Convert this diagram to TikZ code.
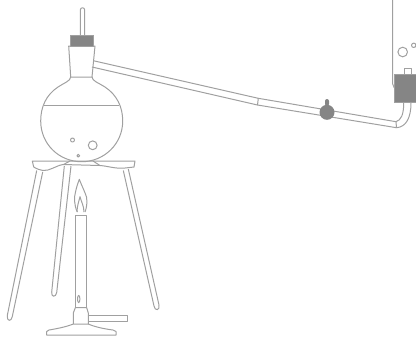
\documentclass[tikz,border=0pt]{standalone}
\usepackage{xcolor}
\usepackage{tikz}
\definecolor{GlassLine}{HTML}{A0A0A0}
\definecolor{StopperGrey}{HTML}{858585}
\tikzset{glass/.style={draw=GlassLine,line width=0.75pt,line join=round},
  stopper/.style={draw=GlassLine,fill=StopperGrey,line width=0.5pt}}
\begin{document}
\begin{tikzpicture}[x=0.75pt,y=-0.75pt]
\path[use as bounding box] (0,0) rectangle (416,337);
% flask
\draw[glass] (80.3,35) -- (80.3,10) .. controls (80.3,7) and (84.7,7) .. (84.7,10) -- (84.7,35);
\draw[glass] (68.7,46) -- (70.7,77) -- (92,77) -- (95,46) -- cycle;
\draw[glass] (70.7,77) .. controls (70.5,81) and (64,83) .. (58,87) .. controls (46,95) and (40.7,107) .. (40.7,121)
  .. controls (40.7,144) and (59,161.7) .. (81.7,161.7) .. controls (104,161.7) and (122.7,144) .. (122.7,121)
  .. controls (122.7,107) and (117,95) .. (105,87) .. controls (99,83) and (92,81) .. (92,77);
\draw[glass] (44,105.3) -- (118.7,105.3);
\draw[glass] (72.5,140) circle (2);
\draw[glass] (92.7,145.3) circle (4.4);
\draw[glass] (78.3,155.7) circle (1.4);
\draw[stopper] (70,35) rectangle (93,46);
% delivery tube
\draw[glass] (93.3,60.7) -- (258.3,98.3) -- (257.5,105) -- (92,67);
\draw[glass] (258.3,98.3) -- (396,121.7) -- (396.5,127.7) -- (257.5,105);
\draw[glass] (396,121.7) .. controls (401,120) and (403.7,115) .. (403.7,102.7);
\draw[glass] (396.5,127.7) .. controls (406,127) and (411,118) .. (411,102.7);
\fill[StopperGrey] (327,112.3) circle (7.5);
\fill[StopperGrey,rounded corners=1.5pt] (325,106) rectangle (329,99);
% receiver
\draw[glass] (392.7,0) -- (392.7,84) -- (394.3,88);
\draw[glass] (402.7,52) circle (4.8);
\draw[glass] (413.7,45.3) circle (2.2);
\draw[glass] (404.7,74) -- (404.7,68.3) -- (411,68.3) -- (411,74);
\draw[stopper] (394.3,74) rectangle (417,102.7);
% tripod
\draw[glass] (64.3,166) -- (51.7,292) .. controls (51,297.5) and (56,297.5) .. (56.7,292.5) -- (71,166);
\draw[glass] (32.3,161) -- (135,161) -- (134,167) -- (125,168) .. controls (115,169) and (108,166) .. (100,165.5) -- (63,164.5)
  .. controls (55,166) and (50,171) .. (43,170.5) .. controls (40,170) and (37,169) .. (33.7,167) -- cycle;
\draw[glass] (36.7,170.5) -- (7.3,315.5) .. controls (6.5,321.5) and (11.5,322) .. (12.3,316.5) -- (42.7,172);
\draw[glass] (123.3,170.5) -- (154,306) .. controls (155,311.5) and (160,310.5) .. (159,305) -- (128.3,169);
\draw[glass] (63.5,164.5) -- (70,161) (93,161) -- (100,165.5);
% burner
\draw[glass] (75.3,307.7) -- (75.3,215) -- (86.7,215) -- (86.7,307.7);
\draw[glass] (78.7,299) ellipse (1.2 and 3.6);
\draw[glass] (75.3,307.7) -- (73.3,313) -- (73.3,324) -- (88.3,324) -- (88.3,313) -- (86.7,307.7) -- cycle;
\draw[glass] (73.3,324) .. controls (66,327) and (55,329) .. (49,330) -- (46.7,331.5) -- (46.7,335) -- (116,335) -- (116,331.5)
  -- (113,330) .. controls (105,329) and (95,327) .. (88.3,324);
\draw[glass] (88.3,315) rectangle (127.3,321.3);
% flame
\draw[glass] (77.3,212) .. controls (74,205) and (74,197) .. (75.5,192) .. controls (76.5,187) and (78,183) .. (79.3,179.3)
  .. controls (81,184) and (85,192) .. (86.5,197) .. controls (87.5,203) and (86.5,208) .. (85,212);
\draw[glass] (77,212) .. controls (77,206) and (79,201) .. (80,196.7) .. controls (81,201) and (84,206) .. (84,212);
\end{tikzpicture}
\end{document}
